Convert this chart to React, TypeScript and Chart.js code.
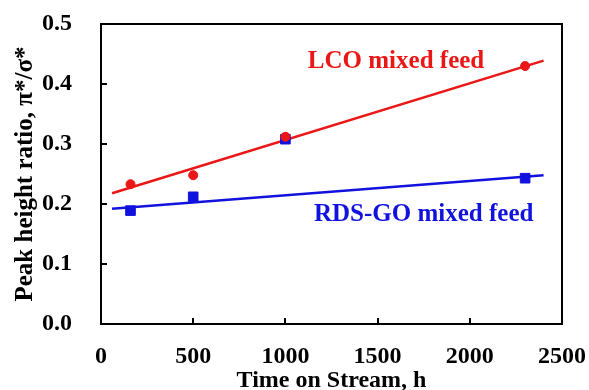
import React, { useEffect, useRef } from "react";
import { Chart, registerables } from "chart.js";

Chart.register(...registerables);

const timeHours = [160, 500, 1000, 2300];
const lcoRatio = [0.233, 0.248, 0.312, 0.43];
const rdsRatio = [0.189, 0.212, 0.308, 0.243];
const trendX = [60, 2400];
const lcoTrend = [0.218, 0.439];
const rdsTrend = [0.192, 0.248];
const xTicks = [0, 500, 1000, 1500, 2000, 2500];
const yTicks = [0, 0.1, 0.2, 0.3, 0.4, 0.5];
const lcoLabel = { text: "LCO mixed feed", x: 1600, y: 0.437 };
const rdsLabel = { text: "RDS-GO mixed feed", x: 1750, y: 0.183 };

const RED = "rgb(235,22,22)";
const BLUE = "rgb(18,18,222)";
const FONT = "'Liberation Serif', 'Times New Roman', serif";

const framePlugin = {
  id: "frameTicks",
  afterDraw(chart: any) {
    const { ctx, chartArea } = chart;
    const xs = chart.scales.x;
    const ys = chart.scales.y;
    ctx.save();
    ctx.strokeStyle = "#000";
    ctx.lineWidth = 2;
    ctx.strokeRect(chartArea.left, chartArea.top, chartArea.right - chartArea.left, chartArea.bottom - chartArea.top);
    ctx.beginPath();
    xTicks.slice(1, -1).forEach((v) => {
      const px = Math.round(xs.getPixelForValue(v));
      ctx.moveTo(px, chartArea.bottom);
      ctx.lineTo(px, chartArea.bottom - 6);
    });
    yTicks.slice(1, -1).forEach((v) => {
      const py = Math.round(ys.getPixelForValue(v));
      ctx.moveTo(chartArea.left, py);
      ctx.lineTo(chartArea.left + 6, py);
    });
    ctx.stroke();
    ctx.font = `bold 25px ${FONT}`;
    ctx.textAlign = "center";
    ctx.textBaseline = "middle";
    ctx.fillStyle = RED;
    ctx.fillText(lcoLabel.text, xs.getPixelForValue(lcoLabel.x), ys.getPixelForValue(lcoLabel.y));
    ctx.fillStyle = BLUE;
    ctx.fillText(rdsLabel.text, xs.getPixelForValue(rdsLabel.x), ys.getPixelForValue(rdsLabel.y));
    ctx.restore();
  },
};

const zeroPad = (s: any) => {
  s.paddingLeft = 0;
  s.paddingRight = 0;
  s.paddingTop = 0;
  s.paddingBottom = 0;
};

export default function App() {
  const ref = useRef<HTMLCanvasElement>(null);
  useEffect(() => {
    document.body.style.margin = "0";
    const canvas = ref.current!;
    const chart = new Chart(canvas, {
      type: "scatter",
      data: {
        datasets: [
          {
            label: "LCO points",
            data: timeHours.map((x, i) => ({ x, y: lcoRatio[i] })),
            backgroundColor: RED,
            borderColor: RED,
            pointRadius: 4.5,
            pointStyle: "circle",
            order: 0,
          },
          {
            label: "RDS points",
            data: timeHours.map((x, i) => ({ x, y: rdsRatio[i] })),
            backgroundColor: BLUE,
            borderColor: BLUE,
            pointRadius: 6.8,
            pointStyle: "rect",
            order: 1,
          },
          {
            type: "line",
            label: "LCO trend",
            data: trendX.map((x, i) => ({ x, y: lcoTrend[i] })),
            borderColor: RED,
            borderWidth: 2.5,
            pointRadius: 0,
            fill: false,
            order: 2,
          },
          {
            type: "line",
            label: "RDS trend",
            data: trendX.map((x, i) => ({ x, y: rdsTrend[i] })),
            borderColor: BLUE,
            borderWidth: 2.5,
            pointRadius: 0,
            fill: false,
            order: 3,
          },
        ] as any,
      },
      options: {
        animation: false,
        responsive: false,
        events: [],
        layout: { padding: { left: 0, top: 24, right: 27, bottom: 0 } },
        plugins: { legend: { display: false }, tooltip: { enabled: false } },
        scales: {
          x: {
            type: "linear",
            min: 0,
            max: 2500,
            afterBuildTicks: (s: any) => {
              s.ticks = xTicks.map((v) => ({ value: v }));
            },
            afterFit: (s: any) => {
              s.height = 66;
              zeroPad(s);
            },
            grid: { display: false, drawTicks: false },
            border: { display: false },
            ticks: {
              padding: 18,
              color: "#000",
              font: { family: FONT, size: 24, weight: "bold" },
              maxRotation: 0,
              callback: (v: any) => String(v),
            },
            title: {
              display: true,
              text: "Time on Stream, h",
              color: "#000",
              font: { family: FONT, size: 24, weight: "bold", lineHeight: 1 },
              padding: { top: 0, bottom: -3 },
            },
          },
          y: {
            type: "linear",
            min: 0,
            max: 0.5,
            afterBuildTicks: (s: any) => {
              s.ticks = yTicks.map((v) => ({ value: v }));
            },
            afterFit: (s: any) => {
              s.width = 101;
              zeroPad(s);
            },
            grid: { display: false, drawTicks: false },
            border: { display: false },
            ticks: {
              padding: 29,
              color: "#000",
              font: { family: FONT, size: 24, weight: "bold" },
              callback: (v: any) => Number(v).toFixed(1),
            },
            title: {
              display: true,
              text: "Peak height ratio, π*/σ*",
              color: "#000",
              font: { family: FONT, size: 25, weight: "bold", lineHeight: 1 },
              padding: { top: 13, bottom: 0 },
            },
          },
        },
      } as any,
      plugins: [framePlugin],
    });
    return () => chart.destroy();
  }, []);
  return (
    <div style={{ width: 589, height: 390 }}>
      <canvas ref={ref} width={589} height={390} />
    </div>
  );
}
